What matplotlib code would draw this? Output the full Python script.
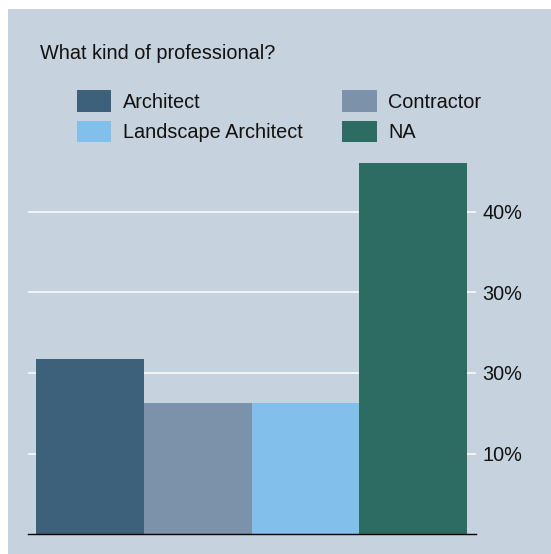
import matplotlib
matplotlib.use("Agg")
import matplotlib.pyplot as plt
from matplotlib.patches import Rectangle, Patch

plt.rcParams["font.family"] = ["Liberation Sans", "DejaVu Sans"]

# Survey answers: share of respondents by professional type
categories = ["Architect", "Contractor", "Landscape Architect", "NA"]
shares = [21.7, 16.3, 16.3, 46.0]
colors = ["#3d617b", "#7b92aa", "#82bfea", "#2d6c63"]

tick_values = [10, 20, 30, 40]
tick_labels = ["10%", "30%", "30%", "40%"]

# legend is filled column by column: left column first, then right column
legend_order = ["Architect", "Landscape Architect", "Contractor", "NA"]

W, H = 551, 554
fig = plt.figure(figsize=(W / 100, H / 100), dpi=100, facecolor="white")

panel_color = "#c6d2de"
fig.patches.append(Rectangle((8 / W, 0), 1 - 8 / W, 1 - 9 / H,
                             transform=fig.transFigure, facecolor=panel_color,
                             edgecolor="none", zorder=-10))

ax_left, ax_right = 27.7 / W, 476 / W
ax_bottom = (H - 534.3) / H
ymax = 50
ax_top_px = 534.3 - ymax * 8.065
ax = fig.add_axes([ax_left, ax_bottom, ax_right - ax_left, (534.3 - ax_top_px) / H])
ax.set_facecolor("none")

x = list(range(len(categories)))
ax.bar(x, shares, width=1.0, color=colors, edgecolor="none", zorder=3)

ax.set_xlim(-0.577, 3.583)
ax.set_ylim(0, ymax)

ax.set_yticks(tick_values)
ax.set_yticklabels(tick_labels)
ax.yaxis.tick_right()
ax.tick_params(axis="y", length=0, pad=4.8, labelsize=14.3, labelcolor="#111111")
ax.set_xticks([])
ax.yaxis.grid(True, color="white", linewidth=1.1, zorder=0)
ax.set_axisbelow(True)

for side in ["top", "left", "right"]:
    ax.spines[side].set_visible(False)
ax.spines["bottom"].set_color("black")
ax.spines["bottom"].set_linewidth(1.0)
ax.spines["bottom"].set_zorder(4)

fig.text(40.5 / W, 1 - 59.3 / H, "What kind of professional?", fontsize=14.3,
         color="#111111", ha="left", va="baseline")

color_of = dict(zip(categories, colors))
handles = [Patch(facecolor=color_of[c], edgecolor="none", label=c) for c in legend_order]
fig.legend(handles=handles, loc="upper left",
           bbox_to_anchor=(77.3 / W, 1 - 90.3 / H), bbox_transform=fig.transFigure,
           ncol=2, frameon=False, fontsize=14.3, borderpad=0, borderaxespad=0,
           handlelength=1.72, handleheight=1.27, handletextpad=0.58,
           columnspacing=2.0, labelspacing=0.45, labelcolor="#111111")

fig.savefig("out.png", dpi=100, facecolor="white")
